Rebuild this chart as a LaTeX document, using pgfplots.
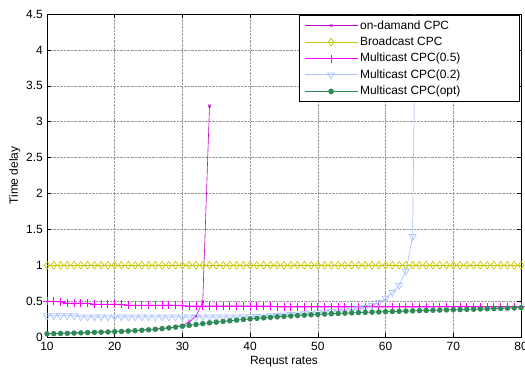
\documentclass[border=0pt]{standalone}
\usepackage{pgfplots}
\usepackage{pgfplotstable}
\pgfplotsset{compat=1.18}
\usepackage{fontspec}
\setmainfont{Liberation Sans}
\definecolor{cOnd}{RGB}{190,0,200}
\definecolor{cBro}{RGB}{200,200,0}
\definecolor{cMfive}{RGB}{250,0,250}
\definecolor{cMtwo}{RGB}{170,195,255}
\definecolor{cOpt}{RGB}{46,139,87}

\pgfplotstableread{
x y
10 0.045
11 0.047
12 0.050
13 0.052
14 0.055
15 0.058
16 0.061
17 0.064
18 0.067
19 0.070
20 0.074
21 0.078
22 0.083
23 0.088
24 0.094
25 0.100
26 0.108
27 0.117
28 0.127
29 0.138
30 0.150
31 0.162
32 0.174
33 0.186
34 0.197
35 0.207
36 0.217
37 0.226
38 0.235
39 0.244
40 0.252
41 0.260
42 0.267
43 0.274
44 0.281
45 0.287
46 0.293
47 0.299
48 0.305
49 0.310
50 0.315
51 0.320
52 0.324
53 0.328
54 0.332
55 0.336
56 0.340
57 0.343
58 0.346
59 0.349
60 0.352
61 0.355
62 0.358
63 0.361
64 0.364
65 0.367
66 0.370
67 0.372
68 0.375
69 0.377
70 0.380
71 0.382
72 0.385
73 0.387
74 0.390
75 0.393
76 0.396
77 0.399
78 0.402
79 0.405
80 0.408
}\optdata

\pgfplotstableread{
x y
10 0.048
11 0.050
12 0.053
13 0.055
14 0.058
15 0.061
16 0.064
17 0.067
18 0.070
19 0.073
20 0.077
21 0.081
22 0.086
23 0.091
24 0.097
25 0.104
26 0.111
27 0.120
28 0.130
29 0.143
30 0.162
31 0.210
32 0.290
33 0.490
34 3.220
}\onddata

\pgfplotstableread{
x y
10 0.500
11 0.495
12 0.490
13 0.470
14 0.470
15 0.470
16 0.470
17 0.455
18 0.455
19 0.455
20 0.455
21 0.455
22 0.440
23 0.440
24 0.440
25 0.440
26 0.440
27 0.440
28 0.440
29 0.440
30 0.440
31 0.430
32 0.430
33 0.430
34 0.430
35 0.430
36 0.430
37 0.430
38 0.430
39 0.430
40 0.430
41 0.430
42 0.430
43 0.430
44 0.420
45 0.420
46 0.420
47 0.420
48 0.420
49 0.420
50 0.420
51 0.420
52 0.420
53 0.420
54 0.420
55 0.420
56 0.420
57 0.420
58 0.420
59 0.420
60 0.420
61 0.420
62 0.420
63 0.420
64 0.420
65 0.420
66 0.420
67 0.420
68 0.420
69 0.420
70 0.420
71 0.420
72 0.420
73 0.420
74 0.420
75 0.420
76 0.420
77 0.420
78 0.420
79 0.420
80 0.420
}\mfivedata

\pgfplotstableread{
x y
10 0.295
11 0.295
12 0.295
13 0.295
14 0.295
15 0.280
16 0.280
17 0.280
18 0.280
19 0.280
20 0.280
21 0.280
22 0.280
23 0.280
24 0.280
25 0.280
26 0.280
27 0.280
28 0.280
29 0.280
30 0.280
31 0.280
32 0.280
33 0.280
34 0.280
35 0.280
36 0.280
37 0.280
38 0.280
39 0.282
40 0.284
41 0.287
42 0.291
43 0.296
44 0.301
45 0.307
46 0.313
47 0.319
48 0.326
49 0.333
50 0.340
51 0.347
52 0.354
53 0.362
54 0.371
55 0.381
56 0.393
57 0.410
58 0.440
59 0.480
60 0.540
61 0.620
62 0.720
63 0.920
64 1.400
65 10.000
}\mtwodata

\pgfplotstableread{
x y
10 1
11 1
12 1
13 1
14 1
15 1
16 1
17 1
18 1
19 1
20 1
21 1
22 1
23 1
24 1
25 1
26 1
27 1
28 1
29 1
30 1
31 1
32 1
33 1
34 1
35 1
36 1
37 1
38 1
39 1
40 1
41 1
42 1
43 1
44 1
45 1
46 1
47 1
48 1
49 1
50 1
51 1
52 1
53 1
54 1
55 1
56 1
57 1
58 1
59 1
60 1
61 1
62 1
63 1
64 1
65 1
66 1
67 1
68 1
69 1
70 1
71 1
72 1
73 1
74 1
75 1
76 1
77 1
78 1
79 1
80 1
}\brodata

\begin{document}
\fontsize{12}{14}\selectfont
\begin{tikzpicture}
\begin{axis}[
  scale only axis,
  width=474bp, height=323bp,
  xmin=10, xmax=80, ymin=0, ymax=4.5,
  xtick={10,20,30,40,50,60,70,80},
  ytick={0,0.5,1,1.5,2,2.5,3,3.5,4,4.5},
  /pgf/number format/assume math mode=true,
  ticklabel style={font=\fontsize{12}{14}\selectfont},
  xticklabel style={yshift=-1bp},
  tick align=inside,
  major tick length=4bp,
  tick style={black, line width=0.5bp},
  axis line style={black, line width=0.8bp},
  grid=major,
  major grid style={densely dotted, gray!80, line width=0.5bp},
  xlabel={Requst rates},
  ylabel={Time delay},
  every axis x label/.style={at={(axis description cs:0.5,-0.077)}, anchor=center},
  every axis y label/.style={at={(axis description cs:-0.068,0.5)}, rotate=90, anchor=center},
  label style={font=\fontsize{12}{14}\selectfont},
  clip=true,
  legend style={at={(1,1)}, anchor=north east, xshift=-1.5bp, yshift=-1bp,
    draw=black, line width=0.8bp, fill=white, font=\fontsize{12}{14}\selectfont,
    cells={anchor=west}, row sep=2bp, inner xsep=5bp, inner ysep=3bp},
  legend image code/.code={\draw[mark repeat=2,mark phase=2,line width=1.1bp] plot coordinates {(0bp,0bp) (26.5bp,0bp) (53bp,0bp)};},
]
\addplot[color=cOnd, line width=0.6bp, mark=x, mark size=2bp, mark options={line width=0.6bp}] table {\onddata};
\addlegendentry{\makebox[152bp][l]{on-damand CPC}}
\addplot[color=cBro, line width=0.6bp, mark=diamond, mark size=3.8bp, mark options={line width=0.7bp}] table {\brodata};
\addlegendentry{Broadcast CPC}
\addplot[color=cMfive, line width=0.9bp, mark=+, mark size=4bp, mark options={line width=0.9bp}] table {\mfivedata};
\addlegendentry{Multicast CPC(0.5)}
\addplot[color=cMtwo, line width=0.7bp, mark=triangle, mark size=4bp, mark options={rotate=180, line width=0.7bp}] table {\mtwodata};
\addlegendentry{Multicast CPC(0.2)}
\addplot[color=cOpt, line width=0.8bp, mark=*, mark size=2.3bp] table {\optdata};
\addlegendentry{Multicast CPC(opt)}
\end{axis}
\pgfresetboundingbox
\path[use as bounding box] ([xshift=-47bp,yshift=-35bp]current axis.south west) rectangle ([xshift=4bp,yshift=14bp]current axis.north east);
\end{tikzpicture}
\end{document}
